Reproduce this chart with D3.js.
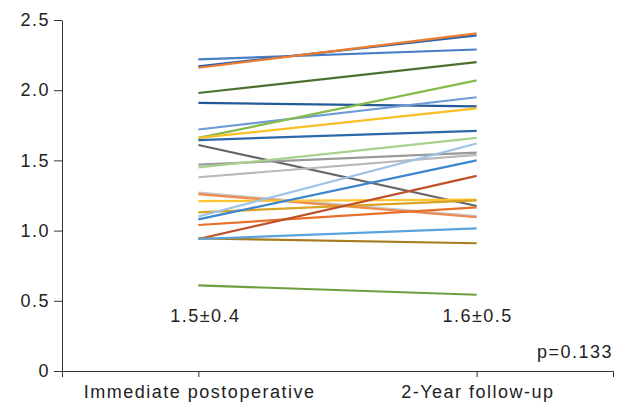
<!DOCTYPE html>
<html><head><meta charset="utf-8">
<script src="https://cdnjs.cloudflare.com/ajax/libs/d3/7.8.5/d3.min.js"></script>
<style>
html,body{margin:0;padding:0;background:#fff;}
svg{display:block;font-family:Arial,"Liberation Sans",Helvetica,sans-serif;}
</style></head>
<body>
<svg id="chart" width="625" height="405"></svg>
<script>
const categories = ["Immediate postoperative", "2-Year follow-up"];
const yTicks = [0, 0.5, 1.0, 1.5, 2.0, 2.5];
const yTickLabels = ["0", "0.5", "1.0", "1.5", "2.0", "2.5"];
const immediate = [2.22, 2.17, 2.16, 1.98, 1.91, 1.72, 1.66, 1.66, 1.645, 1.61, 1.47, 1.45, 1.38, 1.27, 1.26, 1.21, 1.13, 1.10, 1.08, 1.04, 0.94, 0.945, 0.94, 0.61];
const followUp  = [2.29, 2.39, 2.405, 2.20, 1.885, 1.95, 2.07, 1.87, 1.71, 1.175, 1.555, 1.66, 1.54, 1.104, 1.095, 1.22, 1.215, 1.62, 1.50, 1.166, 1.39, 0.91, 1.016, 0.543];
const colors = ["#4a7ec4", "#2e62ad", "#ED7D31", "#4b7130", "#245b96", "#6f9bd6", "#86bb4a", "#fbbf24", "#2a6aa8", "#666666", "#9a9a9a", "#a9d18e", "#b9b9b9", "#c4c4c4", "#f0894a", "#ffc533", "#d9a326", "#9dc3e6", "#3a86d0", "#e8702a", "#c0502a", "#a67c1e", "#5ba3dc", "#6e9f3f"];
const summaries = ["1.5±0.4", "1.6±0.5"];
const pText = "p=0.133";

const FONT = "Arial,'Liberation Sans',sans-serif";
const LS = 1.5;
const svg = d3.select("#chart");
const x = d3.scalePoint().domain(categories).range([62, 613]).padding(0.49);
const y = d3.scaleLinear().domain([0, 2.5]).range([371, 20]);

// lines
const series = immediate.map((v, i) => [[categories[0], v], [categories[1], followUp[i]]]);
const line = d3.line().x(d => x(d[0])).y(d => y(d[1]));
svg.append("g").selectAll("path").data(series).join("path")
  .attr("d", line)
  .attr("fill", "none")
  .attr("stroke", (d, i) => colors[i])
  .attr("stroke-width", 2.2);

// y axis
const yAxis = d3.axisLeft(y).tickValues(yTicks).tickFormat((d, i) => yTickLabels[i]).tickSize(8).tickSizeOuter(0).tickPadding(4);
const gy = svg.append("g").attr("transform", "translate(62,0)").call(yAxis);
gy.selectAll("path,line").attr("stroke", "#333");
gy.selectAll("text").attr("font-size", 18).attr("fill", "#222").attr("font-family", FONT).attr("letter-spacing", LS);

// x axis
const xAxis = d3.axisBottom(x).tickSize(6).tickSizeOuter(6).tickPadding(6);
const gx = svg.append("g").attr("transform", "translate(0,371)").call(xAxis);
gx.selectAll("path,line").attr("stroke", "#333");
gx.selectAll("text").attr("font-size", 18).attr("fill", "#222").attr("font-family", FONT).attr("dy", "0.85em").attr("letter-spacing", LS).attr("dx", LS / 2);

// summaries
svg.append("g").selectAll("text").data(summaries).join("text")
  .attr("x", (d, i) => x(categories[i]) + (i === 0 ? 7 : 1))
  .attr("y", 322)
  .attr("text-anchor", "middle")
  .attr("font-size", 18).attr("fill", "#222").attr("letter-spacing", LS)
  .text(d => d);

svg.append("text").attr("x", 613).attr("y", 358).attr("text-anchor", "end")
  .attr("font-size", 18).attr("fill", "#222").attr("letter-spacing", LS).text(pText);
</script>
</body></html>
